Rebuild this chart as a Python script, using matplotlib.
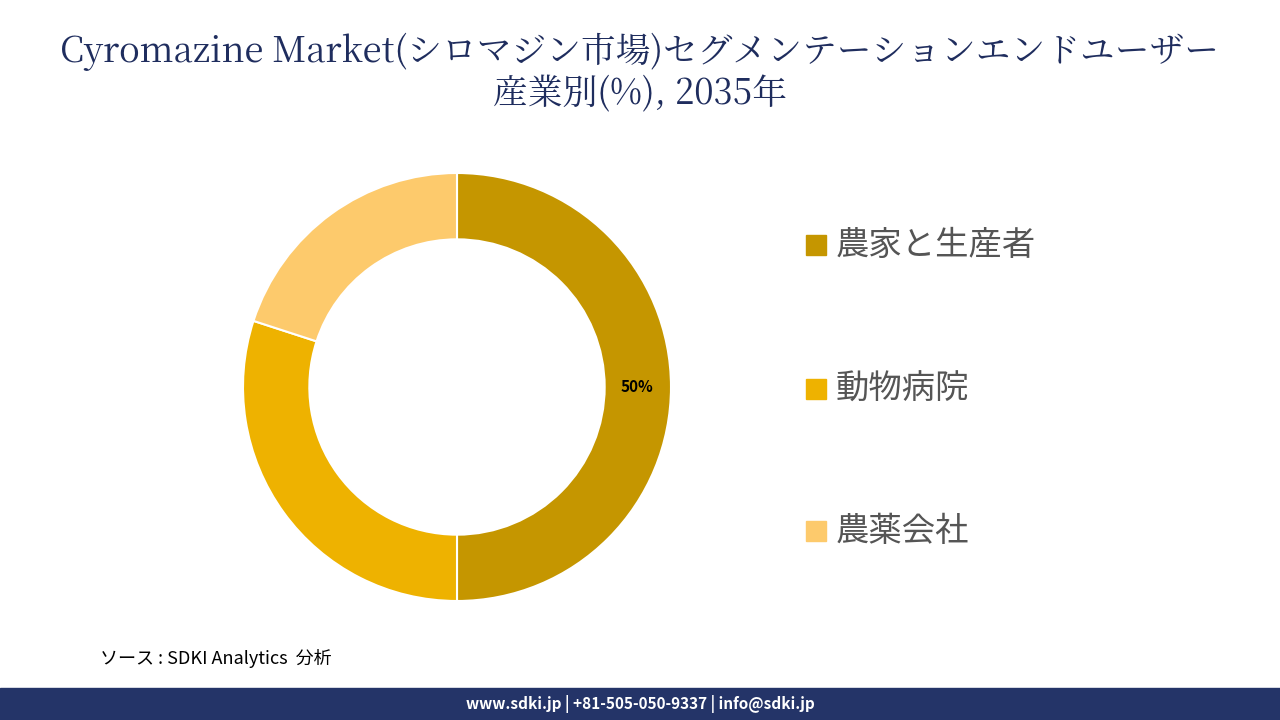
import matplotlib
matplotlib.use("Agg")
import matplotlib.pyplot as plt
from matplotlib.patches import Rectangle

categories = ["農家と生産者", "動物病院", "農薬会社"]
values = [50, 30, 20]
colors = ["#C59600", "#EEB200", "#FDCA6C"]
labels_shown = ["50%", "", ""]

plt.rcParams['font.family'] = ['Noto Sans CJK JP', 'DejaVu Sans']
fig = plt.figure(figsize=(12.8, 7.2), dpi=100)

fig.text(0.5, 1 - 73/720, "Cyromazine Market(シロマジン市場)セグメンテーションエンドユーザー\n産業別(%), 2035年",
         ha='center', va='center', fontsize=25, color='#1F2D5E',
         family=['Noto Serif CJK JP', 'Noto Sans CJK JP', 'DejaVu Serif'], linespacing=1.15)

ax = fig.add_axes([(457 - 214)/1280, 1 - (387+214)/720, 428/1280, 428/720])
wedges, _ = ax.pie(values, colors=colors, startangle=90, counterclock=False, radius=1,
                   wedgeprops=dict(width=0.31, edgecolor='white', linewidth=1.5))
ax.set_xlim(-1, 1)
ax.set_ylim(-1, 1)
ax.set_aspect('equal')
ax.text(0.84, -0.0, labels_shown[0], ha='center', va='center', fontsize=11, fontweight='bold')

ys = [245, 389, 531]
for c, col, y in zip(categories, colors, ys):
    fig.patches.append(Rectangle((806/1280, 1 - (y+10)/720), 20/1280, 20/720,
                                 transform=fig.transFigure, color=col))
    fig.text(836/1280, 1 - y/720, c, ha='left', va='center', fontsize=24, color='#555555')

fig.text(100/1280, 1 - 659/720, "ソース : SDKI Analytics  分析", ha='left', va='center',
         fontsize=13, style='italic', color='black')

fig.patches.append(Rectangle((0, 0), 1, 32/720, transform=fig.transFigure, color='#243468'))
fig.text(0.5, 16/720, "www.sdki.jp | +81-505-050-9337 | info@sdki.jp", ha='center', va='center',
         fontsize=11, fontweight='bold', color='white')

fig.savefig("out.png", dpi=100)
